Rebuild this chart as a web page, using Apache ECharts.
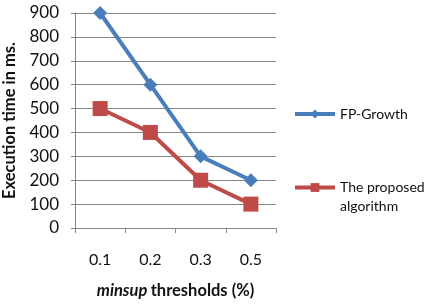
<!DOCTYPE html>
<html>
<head>
<meta charset="utf-8">
<script src="https://cdn.jsdelivr.net/npm/echarts@6/dist/echarts.min.js"></script>
<style>
html,body{margin:0;padding:0;background:#fff;}
#chart{width:427px;height:304px;}
</style>
</head>
<body>
<div id="chart"></div>
<script>
// thresholds on x axis
var thresholds = ['0.1', '0.2', '0.3', '0.5'];
var fpGrowth = [900, 600, 300, 200];
var proposed = [500, 400, 200, 100];

var chart = echarts.init(document.getElementById('chart'));
var font = 'Lato';

chart.setOption({
    animation: false,
    grid: {left: 72, right: 151, top: 13, bottom: 67},
    legend: [{
        data: ['FP-Growth'],
        left: 288,
        top: 102,
        itemWidth: 40,
        itemHeight: 11,
        itemGap: 4,
        lineStyle: {width: 4},
        textStyle: {fontFamily: font, fontSize: 14, color: '#111'}
    }, {
        data: ['The proposed algorithm'],
        left: 288,
        top: 154,
        itemWidth: 40,
        itemHeight: 11,
        itemGap: 4,
        lineStyle: {width: 4},
        // blank first line keeps the icon level with "The proposed"
        formatter: function () { return ' \nThe proposed\nalgorithm'; },
        textStyle: {fontFamily: font, fontSize: 14, color: '#111', lineHeight: 19}
    }],
    xAxis: {
        type: 'category',
        data: thresholds,
        boundaryGap: true,
        name: '{i|minsup} {b|thresholds (%)}',
        nameLocation: 'middle',
        nameGap: 54,
        nameTextStyle: {
            rich: {
                i: {fontFamily: font, fontSize: 16.5, fontWeight: 'bold', fontStyle: 'italic', color: '#111'},
                b: {fontFamily: font, fontSize: 16.5, fontWeight: 'bold', color: '#111'}
            }
        },
        axisLine: {lineStyle: {color: '#868686', width: 1}},
        axisTick: {show: true, length: 5, lineStyle: {color: '#868686'}},
        axisLabel: {fontFamily: font, fontSize: 16, color: '#111', margin: 24}
    },
    yAxis: {
        type: 'value',
        min: 0,
        max: 900,
        interval: 100,
        name: 'Execution time in ms.',
        nameLocation: 'middle',
        nameGap: 57,
        nameTextStyle: {fontFamily: font, fontSize: 16.5, fontWeight: 'bold', color: '#111'},
        axisLine: {show: true, lineStyle: {color: '#868686', width: 1}},
        axisTick: {show: true, length: 4, lineStyle: {color: '#868686'}},
        axisLabel: {fontFamily: font, fontSize: 17, color: '#111', margin: 16},
        splitLine: {show: true, lineStyle: {color: '#868686', width: 1}}
    },
    series: [{
        name: 'FP-Growth',
        type: 'line',
        data: fpGrowth,
        symbol: 'diamond',
        symbolSize: 14,
        lineStyle: {color: '#4a7ebb', width: 4},
        itemStyle: {color: '#4a7ebb'}
    }, {
        name: 'The proposed algorithm',
        type: 'line',
        data: proposed,
        symbol: 'rect',
        symbolSize: 15,
        lineStyle: {color: '#be4b48', width: 4},
        itemStyle: {color: '#be4b48'}
    }]
});
</script>
</body>
</html>
